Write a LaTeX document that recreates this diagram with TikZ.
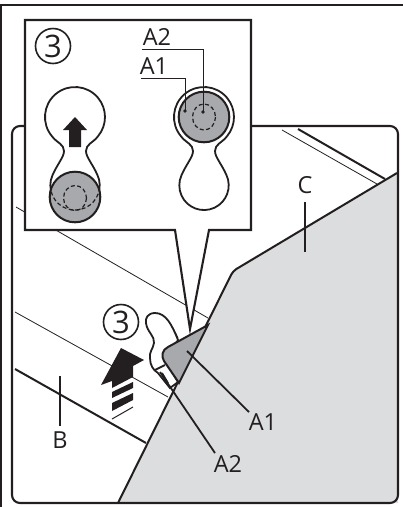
\documentclass[tikz,border=0pt]{standalone}
\usepackage{fontspec}
\setmainfont{Open Sans}
\usepackage{xcolor}
\usetikzlibrary{
  positioning,
  calc
}
\definecolor{inkLine}{HTML}{231F20}
\definecolor{panelGrey}{HTML}{DCDDDE}
\definecolor{pinGrey}{HTML}{A7A9AC}
\tikzset{
  frameline/.style={draw=inkLine, line width=2.1pt},
  thickline/.style={draw=inkLine, line width=2pt},
  hairline/.style={draw=inkLine, line width=0.8pt},
  leader/.style={draw=inkLine, line width=1.8pt},
  callline/.style={draw=inkLine, line width=1pt},
  partlabel/.style={font=\fontsize{23.5}{23.5}\selectfont, text=inkLine, inner sep=0pt},
  stepmark/.style={circle, draw=inkLine, line width=1.6pt, minimum size=35pt, inner sep=0pt,
    font=\fontsize{31}{31}\selectfont, text=inkLine},
  hiddenline/.style={draw=inkLine, line width=1.2pt, dash pattern=on 4pt off 2.5pt},
  keyline/.style={draw=inkLine, line width=1.8pt},
  pinfill/.style={fill=pinGrey, draw=inkLine, line width=2pt}
}
% keyhole outline, origin at centre of the big round end
\newcommand{\keyholepath}{
  (-23,19.3) arc[start angle=140, end angle=400, radius=30]
  .. controls (18,26) and (11,27) .. (11,34)
  .. controls (11,40) and (17.5,46.9) .. (22.4,57.9)
  arc[start angle=-25, end angle=205, radius=24.7]
  .. controls (-17.5,46.9) and (-11,40) .. (-11,34)
  .. controls (-11,27) and (-18,26) .. (-23,19.3) -- cycle
}
\begin{document}
\begin{tikzpicture}[x=1pt, y=-1pt]
  \useasboundingbox (0,0) rectangle (403,507);
  % frames
  \draw[frameline] (1,507) -- (1,5) -- (403,5);
  % panel C
  \fill[panelGrey] (118,503) [rounded corners=4pt] -- (233,271) [sharp corners] -- (397,173) -- (398,503) -- cycle;
  % background lines
  \draw[hairline] (16,207) -- (208,318);
  \draw[hairline] (15,312) -- (168,397);
  \draw[hairline] (282,130) -- (377,184);
  \draw[thickline] (298,129) -- (385,179);
  \draw[thickline] (15,369) -- (146,443);
  \draw[thickline] (118,503) [rounded corners=4pt] -- (233,271) [sharp corners] -- (397,173);
  \draw[frameline, rounded corners=8pt] (12,126) rectangle (398,503);
  % callout
  \draw[frameline, fill=white] (25,20) -- (251,20) -- (251,230) -- (209,230) -- (190,329) -- (175,230) -- (25,230) -- cycle;
  \node[stepmark] (stepone) at (53,46) {3};
  % left keyhole
  \draw[keyline, fill=white, shift={(75,117)}] \keyholepath;
  \fill[inkLine] (75,117) -- (87,130) -- (81,130) -- (81,147) -- (69,147) -- (69,130) -- (63,130) -- cycle;
  \draw[pinfill] (75,197) circle[radius=25.3];
  \begin{scope}
    \clip (75,197) circle[radius=25];
    \draw[hiddenline, shift={(75,117)}] \keyholepath;
  \end{scope}
  \draw[hiddenline] (75,198) ellipse[x radius=11.5, y radius=12.5];
  % right keyhole
  \draw[keyline, fill=white, shift={(204,117)}] \keyholepath;
  \draw[pinfill] (204,117) circle[radius=25.3];
  \draw[hiddenline] (204,117) ellipse[x radius=11.5, y radius=13];
  \node[partlabel] (labeltwotop) at (157,37) {A2};
  \node[partlabel] (labelonetop) at (154,66) {A1};
  \coordinate (pinone) at (185,111);
  \coordinate (pintwo) at (203,112);
  \coordinate (linetwo) at (142,49);
  \coordinate (lineone) at (141,78);
  \draw[callline] (linetwo) -| (pintwo);
  \draw[callline] (lineone) -| (pinone);
  \fill[inkLine] (pinone) circle[radius=1.8];
  \fill[inkLine] (pintwo) circle[radius=1.8];
  % small keyhole in the main view
  \node[stepmark] (steptwo) at (121,322) {3};
  \draw[hairline] (157,313) .. controls (165,314) and (172,325) .. (178,338);
  \draw[keyline, fill=white] (178,340) .. controls (172,325) and (166,313) .. (155,313)
    .. controls (148,313) and (145,318) .. (146,323)
    .. controls (147,332) and (155,336) .. (154,343)
    .. controls (153,349) and (149,352) .. (150,358)
    .. controls (150,365) and (153,370) .. (158,373) -- (170,388) -- (178,382) -- (165,360) -- cycle;
  \draw[keyline] (155,370) -- (165,365);
  \draw[keyline] (162,373) -- (168,383);
  \draw[pinfill] (208,325) -- (168,347) .. controls (162,350) and (161,356) .. (164,361) -- (179,383) -- cycle;
  % arrow
  \fill[inkLine] (121,348) -- (144,360) -- (133,366) -- (133,377) -- (112,388) -- (112,381) -- (101,385) -- cycle;
  \fill[inkLine] (112,392) -- (133,382) -- (133,388) -- (112,398) -- cycle;
  \fill[inkLine] (112,403) -- (133,393) -- (133,400) -- (112,411) -- cycle;
  \draw[callline] (112,419) -- (133,407);
  % labels
  \node[partlabel] (labelB) at (60,440) {B};
  \coordinate (tickB) at (60,376);
  \coordinate (endB) at (60,426);
  \draw[leader] (tickB) -- (endB);
  \node[partlabel] (labelC) at (305,185) {C};
  \coordinate (tickC) at (305,202);
  \coordinate (endC) at (305,252);
  \draw[leader] (tickC) -- (endC);
  \node[partlabel] (labelone) at (263,422) {A1};
  \coordinate (tipone) at (187,351);
  \draw[leader] (tipone) -- (249,412);
  \node[partlabel] (labeltwo) at (228,464) {A2};
  \coordinate (tiptwo) at (160,372);
  \draw[leader] (tiptwo) -- (215,453);
\end{tikzpicture}
\end{document}
